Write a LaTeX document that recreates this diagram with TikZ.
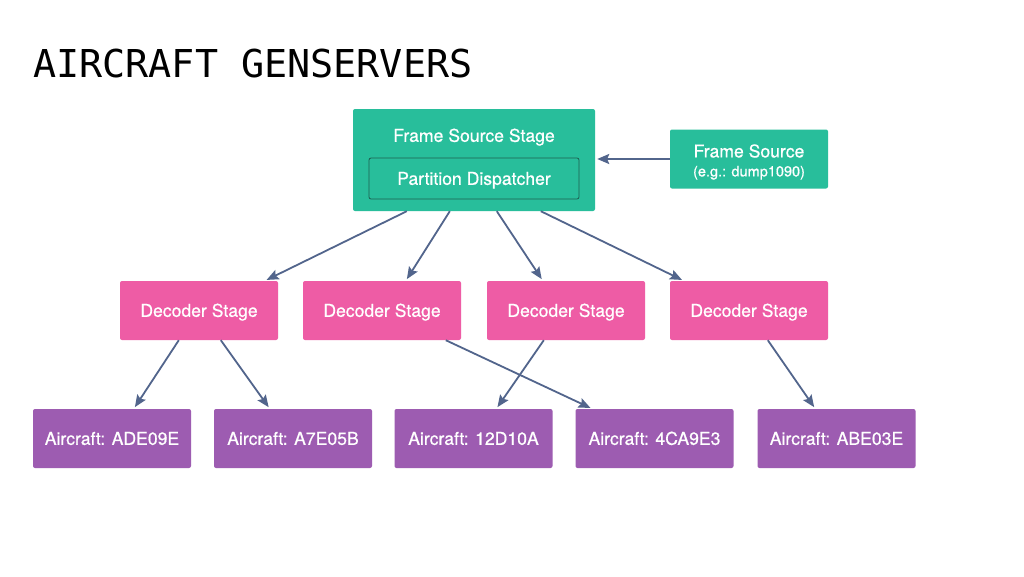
\documentclass[tikz,border=0pt]{standalone}
\usepackage{fontspec}
\setmainfont{TeX Gyre Heros}
\newfontfamily\boxfont{TeX Gyre Heros}[FakeBold=0.7]
\newfontfamily\titlefont{DejaVu Sans Mono}
\usetikzlibrary{arrows.meta}

\definecolor{stagegreen}{HTML}{28BE9B}
\definecolor{innerline}{HTML}{1D5E50}
\definecolor{decoderpink}{HTML}{EE5CA5}
\definecolor{aircraftpurple}{HTML}{9D5CB1}
\definecolor{arrowblue}{HTML}{52658C}

\begin{document}
\begin{tikzpicture}[x=1pt, y=-1pt,
	box/.style={rectangle, rounded corners=2pt, inner sep=0pt, minimum width=158pt, minimum height=59pt, text height=12.6pt, text depth=0pt, text=white, font=\boxfont\fontsize{17.6}{20}\selectfont},
	decoder/.style={box, fill=decoderpink},
	aircraft/.style={box, fill=aircraftpurple},
	conn/.style={-{Stealth[length=12pt, width=10pt, inset=2pt]}, draw=arrowblue, line width=1.8pt, shorten >=2pt}]
			\useasboundingbox[fill=white] (0,0) rectangle (1024,576);
			% Title
			\node[anchor=base west, inner sep=0pt, font=\titlefont\fontsize{38.4}{42}\selectfont] (title) at (33,77) {AIRCRAFT GENSERVERS};
			% Frame source stage
			\node[box, fill=stagegreen, minimum width=242pt, minimum height=102pt] (fss) at (474,160) {};
			\node[text=white, inner sep=0pt, text height=12.6pt, text depth=0pt, font=\boxfont\fontsize{17.6}{20}\selectfont] (fsslabel) at (474,135.5) {Frame Source Stage};
			\node[box, fill=stagegreen, draw=innerline, line width=0.8pt, minimum width=210pt, minimum height=41pt] (pd) at (474,178.5) {Partition Dispatcher};
			\node[box, fill=stagegreen, align=center, text height=, text depth=] (fs) at (749,159) {\rule{0pt}{19pt}Frame Source\\[-1pt]{\fontsize{14.5}{16}\selectfont (e.g.: dump1090)}};
			% Decoder stages
			\node[decoder] (d1) at (199,310.5) {Decoder Stage};
			\node[decoder] (d2) at (382,310.5) {Decoder Stage};
			\node[decoder] (d3) at (566,310.5) {Decoder Stage};
			\node[decoder] (d4) at (749,310.5) {Decoder Stage};
			% Aircraft
			\node[aircraft] (a1) at (112,438.5) {Aircraft: ADE09E};
			\node[aircraft] (a2) at (293,438.5) {Aircraft: A7E05B};
			\node[aircraft] (a3) at (473.5,438.5) {Aircraft: 12D10A};
			\node[aircraft] (a4) at (654.5,438.5) {Aircraft: 4CA9E3};
			\node[aircraft] (a5) at (836.5,438.5) {Aircraft: ABE03E};
			% Edges
			\draw[conn] (fs.west) -- (fs.west -| fss.east);
			\draw[conn] ([xshift=54pt]fss.south west) -- ([xshift=145pt]d1.north west);
			\draw[conn] ([xshift=97pt]fss.south west) -- ([xshift=103pt]d2.north west);
			\draw[conn] ([xshift=144pt]fss.south west) -- ([xshift=56pt]d3.north west);
			\draw[conn] ([xshift=188pt]fss.south west) -- ([xshift=14pt]d4.north west);
			\draw[conn] ([xshift=59pt]d1.south west) -- ([xshift=101pt]a1.north west);
			\draw[conn] ([xshift=101pt]d1.south west) -- ([xshift=56pt]a2.north west);
			\draw[conn] ([xshift=143pt]d2.south west) -- ([xshift=17pt]a4.north west);
			\draw[conn] ([xshift=57pt]d3.south west) -- ([xshift=102pt]a3.north west);
			\draw[conn] ([xshift=98pt]d4.south west) -- ([xshift=58pt]a5.north west);
		\end{tikzpicture}
\end{document}
